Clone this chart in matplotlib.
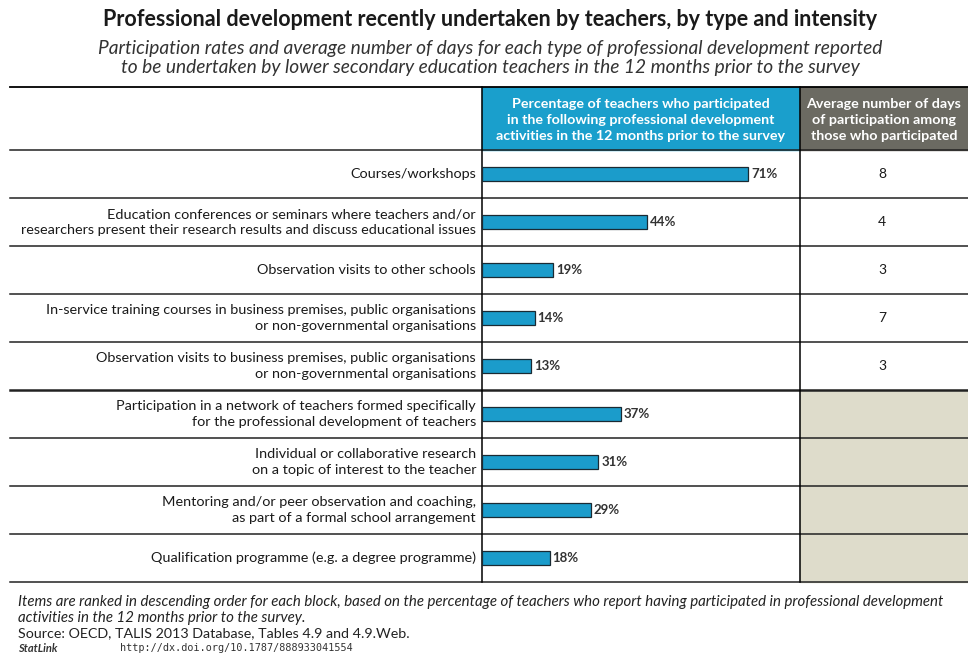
import matplotlib.pyplot as plt
import matplotlib.patches as mpatches

plt.rcParams['font.family'] = ['Lato', 'DejaVu Sans']

labels = [
    "Courses/workshops",
    "Education conferences or seminars where teachers and/or\nresearchers present their research results and discuss educational issues",
    "Observation visits to other schools",
    "In-service training courses in business premises, public organisations\nor non-governmental organisations",
    "Observation visits to business premises, public organisations\nor non-governmental organisations",
    "Participation in a network of teachers formed specifically\nfor the professional development of teachers",
    "Individual or collaborative research\non a topic of interest to the teacher",
    "Mentoring and/or peer observation and coaching,\nas part of a formal school arrangement",
    "Qualification programme (e.g. a degree programme)",
]
pct = [71, 44, 19, 14, 13, 37, 31, 29, 18]
days = [8, 4, 3, 7, 3]

W, H = 968, 656
fig = plt.figure(figsize=(W / 100, H / 100), dpi=100)

# background axes in pixel coordinates
bg = fig.add_axes([0, 0, 1, 1])
bg.set_xlim(0, W)
bg.set_ylim(H, 0)
bg.axis('off')

top, head_bot, bot = 87, 150, 582
x_bar, x_days = 482, 800
row_h = (bot - head_bot) / len(labels)
blue = '#1b9ccb'

bg.text(490, 20, "Professional development recently undertaken by teachers, by type and intensity",
        ha='center', va='center', fontsize=15.5, fontweight='bold', color='#1a1a1a')
bg.text(490, 58, "Participation rates and average number of days for each type of professional development reported\n"
        "to be undertaken by lower secondary education teachers in the 12 months prior to the survey",
        ha='center', va='center', fontsize=13.8, style='italic', color='#333333', linespacing=1.08)

# header cells
bg.add_patch(mpatches.Rectangle((x_bar, top), x_days - x_bar, head_bot - top, color='#1a9fcc', zorder=1))
bg.add_patch(mpatches.Rectangle((x_days, top), W - x_days, head_bot - top, color='#6b6a62', zorder=1))
bg.add_patch(mpatches.Rectangle((x_days, head_bot + 5 * row_h), W - x_days, 4 * row_h,
                                color='#dedccb', zorder=1))
bg.text((x_bar + x_days) / 2, (top + head_bot) / 2 + 2,
        "Percentage of teachers who participated\nin the following professional development\n"
        "activities in the 12 months prior to the survey",
        ha='center', va='center', fontsize=10.3, fontweight='bold', color='white', linespacing=1.4)
bg.text((x_days + W) / 2, (top + head_bot) / 2 + 2,
        "Average number of days\nof participation among\nthose who participated",
        ha='center', va='center', fontsize=10.3, fontweight='bold', color='white', linespacing=1.4)

# grid lines
bg.plot([10, W], [top, top], color='black', lw=1.3, zorder=3)
for i in range(len(labels) + 1):
    y = head_bot + i * row_h
    lw = 1.8 if i == 5 else 1.1
    bg.plot([10, W], [y, y], color='#222222', lw=lw, zorder=3)
bg.plot([x_bar, x_bar], [top, bot], color='black', lw=1.1, zorder=3)
bg.plot([x_days, x_days], [top, bot], color='black', lw=1.1, zorder=3)

for i, lab in enumerate(labels):
    yc = head_bot + (i + 0.5) * row_h
    bg.text(476, yc, lab, ha='right', va='center', fontsize=10.4, color='#1a1a1a', linespacing=1.3)
for i, d in enumerate(days):
    yc = head_bot + (i + 0.5) * row_h
    bg.text((x_days + W) / 2 - 2, yc, str(d), ha='center', va='center', fontsize=10, color='#1a1a1a')

# bar axes
ax = fig.add_axes([x_bar / W, 1 - bot / H, (x_days - x_bar) / W, (bot - head_bot) / H])
ax.patch.set_alpha(0)
ypos = list(range(len(labels)))
ax.barh(ypos, pct, height=0.3, color=blue, edgecolor='#1a2a33', linewidth=0.9)
for y, v in zip(ypos, pct):
    ax.text(v + 0.8, y, f"{v}%", ha='left', va='center', fontsize=9.5, fontweight='bold', color='#333333')
ax.set_xlim(0, (x_days - x_bar) / 3.75)
ax.set_ylim(len(labels) - 0.5, -0.5)
ax.axis('off')

# notes
bg.text(18, 602, "Items are ranked in descending order for each block, based on the percentage of teachers who report having participated in professional development",
        ha='left', va='center', fontsize=10.8, style='italic', color='#222222')
bg.text(18, 618, "activities in the 12 months prior to the survey.",
        ha='left', va='center', fontsize=10.8, style='italic', color='#222222')
bg.text(18, 633, "Source: OECD, TALIS 2013 Database, Tables 4.9 and 4.9.Web.",
        ha='left', va='center', fontsize=10.3, color='#222222')
bg.text(18, 648, "StatLink", ha='left', va='center', fontsize=8, style='italic', fontweight='bold', color='#333333')
bg.text(120, 648, "http://dx.doi.org/10.1787/888933041554", ha='left', va='center', fontsize=7.3,
        family='DejaVu Sans Mono', color='#333333')

fig.savefig('out.png', dpi=100)
